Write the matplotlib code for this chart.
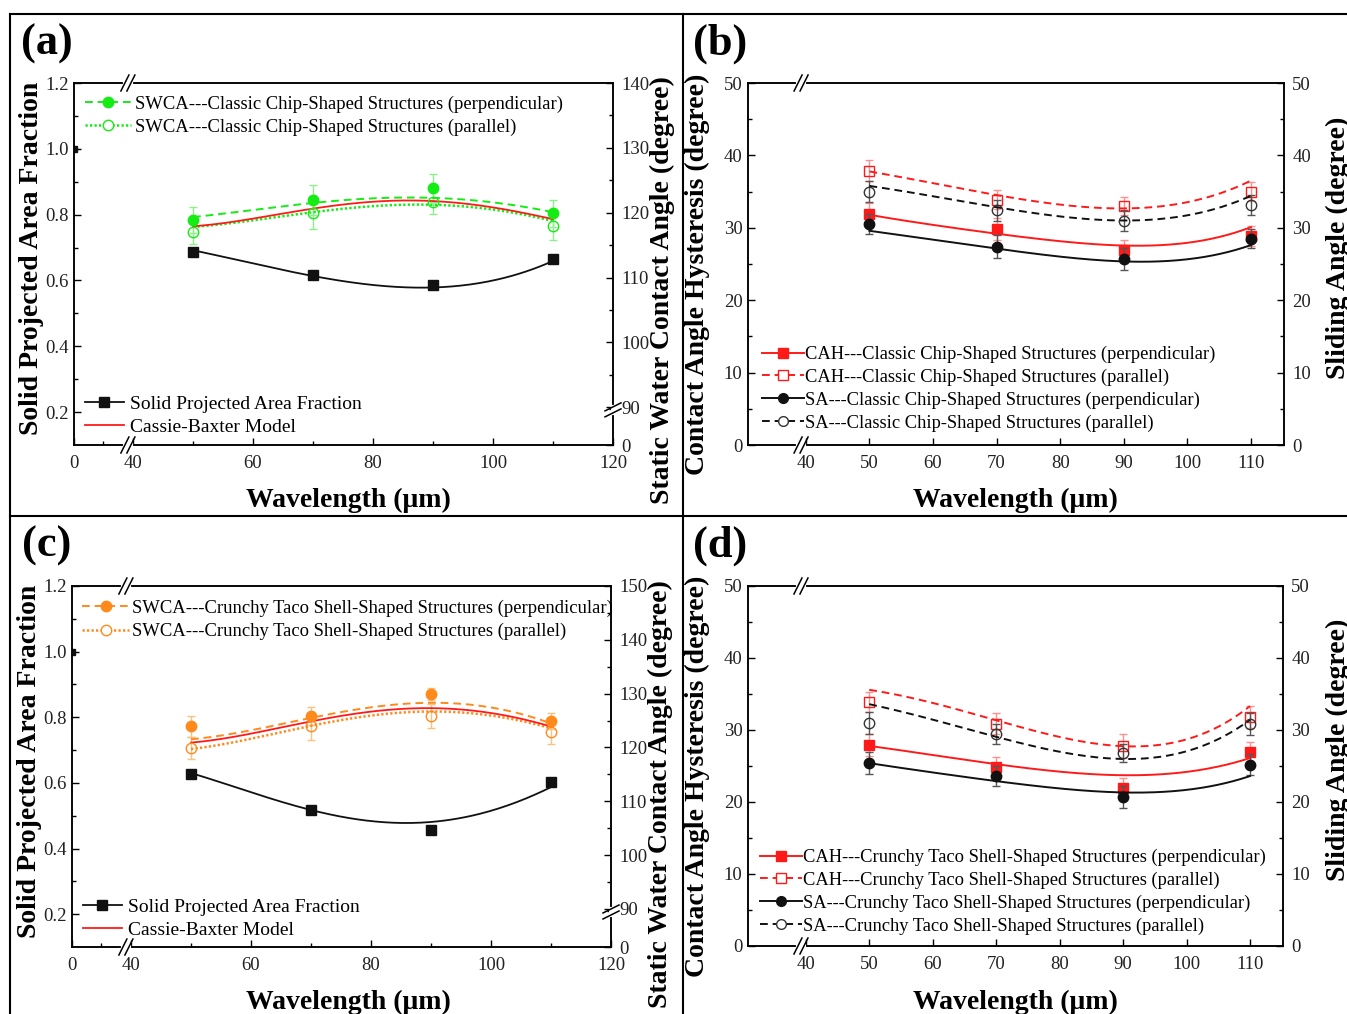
import numpy as np
import matplotlib.pyplot as plt
from matplotlib.lines import Line2D
from matplotlib.ticker import FixedLocator, FormatStrFormatter

W, H = 1347, 1014
plt.rcParams['font.family'] = 'serif'
plt.rcParams['font.serif'] = ['Liberation Serif', 'DejaVu Serif']

# ---------------- data ----------------
wl = [50, 70, 90, 110]                     # measured wavelengths (um)
fit_x = [50, 60, 70, 80, 90, 100, 110]     # where the fitted curves were read

# (a) classic chip-shaped structures
a_flat_x, a_flat_y = [0], [1.0]
a_spaf = [0.687, 0.617, 0.587, 0.664]
a_spaf_fit = [0.692, 0.651, 0.614, 0.587, 0.577, 0.601, 0.659]
a_perp = [118.8, 121.9, 123.8, 119.9]
a_perp_err = [2.0, 2.3, 2.15, 2.1]
a_par = [117.0, 120.0, 121.7, 117.9]
a_par_err = [1.9, 2.5, 1.95, 2.15]
a_perp_fit = [119.3, 120.5, 121.4, 122.2, 122.4, 121.5, 120.1]
a_par_fit = [117.8, 118.8, 120.1, 121.0, 121.2, 120.5, 118.7]
a_cb = [117.9, 119.1, 120.6, 121.7, 121.8, 120.8, 119.0]

# (c) crunchy taco shell-shaped structures
c_flat_x, c_flat_y = [0], [1.0]
c_spaf = [0.627, 0.518, 0.455, 0.602]
c_spaf_fit = [0.630, 0.572, 0.516, 0.486, 0.479, 0.516, 0.587]
c_perp = [123.9, 125.9, 129.9, 124.9]
c_perp_err = [2.0, 1.7, 1.1, 1.5]
c_par = [119.9, 123.9, 125.9, 122.9]
c_par_err = [2.0, 2.5, 2.2, 2.2]
c_perp_fit = [121.5, 123.3, 125.4, 127.4, 128.5, 127.3, 124.5]
c_par_fit = [119.7, 121.7, 123.9, 126.0, 126.7, 125.9, 123.6]
c_cb = [120.9, 122.6, 124.8, 126.7, 127.3, 126.4, 123.9]

# (b) CAH / SA, classic chip
b_cah_perp = [31.9, 29.8, 26.9, 28.9]
b_cah_par = [37.9, 33.9, 33.0, 35.0]
b_sa_perp = [30.5, 27.4, 25.7, 28.5]
b_sa_par = [35.0, 32.4, 31.0, 33.1]
b_cah_perp_err = [1.5, 1.5, 1.4, 1.4]
b_cah_par_err = [1.5, 1.3, 1.3, 1.3]
b_sa_perp_err = [1.4, 1.6, 1.5, 1.3]
b_sa_par_err = [1.5, 1.5, 1.4, 1.4]
b_cah_perp_fit = [31.8, 30.4, 29.2, 28.1, 27.6, 27.9, 30.1]
b_cah_par_fit = [37.8, 36.1, 34.6, 33.2, 32.6, 33.6, 36.5]
b_sa_perp_fit = [29.6, 28.3, 27.2, 26.0, 25.3, 25.7, 27.6]
b_sa_par_fit = [35.8, 34.3, 32.9, 31.6, 30.9, 31.8, 34.4]

# (d) CAH / SA, crunchy taco shell
d_cah_perp = [27.9, 24.8, 21.9, 26.9]
d_cah_par = [33.9, 30.9, 27.8, 31.8]
d_sa_perp = [25.4, 23.6, 20.7, 25.2]
d_sa_par = [31.0, 29.5, 26.8, 30.8]
d_cah_perp_err = [1.5, 1.5, 1.5, 1.5]
d_cah_par_err = [1.4, 1.4, 1.7, 1.5]
d_sa_perp_err = [1.5, 1.4, 1.5, 1.4]
d_sa_par_err = [1.5, 1.4, 1.3, 1.5]
d_cah_perp_fit = [27.8, 26.5, 25.3, 24.2, 23.7, 24.2, 26.1]
d_cah_par_fit = [35.6, 33.7, 31.4, 29.1, 27.6, 28.8, 33.3]
d_sa_perp_fit = [25.4, 24.1, 22.9, 21.9, 21.3, 21.7, 23.6]
d_sa_par_fit = [33.6, 31.4, 29.1, 27.0, 25.9, 27.1, 31.4]

GREEN = '#14ec14'
GREEN_E = '#8cf08c'
ORANGE = '#ff8a1c'
ORANGE_E = '#ffc080'
RED = '#ff1a1a'
RED_E = '#ff9090'
BLACK = '#111111'
BLACK_E = '#555555'
TICK_FS = 13.5


def fx(px):
    return px / W


def fy(py):
    return 1 - py / H


def rect(l, t, r, b):
    return [fx(l), fy(b), (r - l) / W, (b - t) / H]


def brk(edge, k):
    # piecewise scale: everything below `edge` is squeezed by factor k
    def fwd(v):
        v = np.asarray(v, float)
        return np.where(v < edge, v * k, edge * k + (v - edge))

    def inv(u):
        u = np.asarray(u, float)
        return np.where(u < edge * k, u / k, u - edge * k + edge)
    return fwd, inv


def smooth(xs, ys):
    # smooth fit line through the curve values
    c = np.polyfit(xs, ys, 4)
    xx = np.linspace(xs[0], xs[-1], 200)
    return xx, np.polyval(c, xx)


def ticks(ax, **kw):
    ax.tick_params(which='both', direction='in', labelsize=TICK_FS,
                   labelcolor='#222222', width=1.0, **kw)
    ax.tick_params(which='major', length=5, pad=4)
    ax.tick_params(which='minor', length=3)
    ax.tick_params(axis='x', which='major', pad=7)


def draw_break(ax, xa, ya, vertical=False):
    bb = ax.get_position()
    wpx, hpx = bb.width * W, bb.height * H
    kw = dict(transform=ax.transAxes, clip_on=False, zorder=20)
    if not vertical:
        ax.plot([xa - 3 / wpx, xa + 3 / wpx], [ya, ya], color='white', lw=3, **kw)
        for o in (-3, 3):
            ax.plot([xa + (o - 4) / wpx, xa + (o + 4) / wpx],
                    [ya - 8 / hpx, ya + 8 / hpx], color='k', lw=1.1, **kw)
    else:
        ax.plot([xa, xa], [ya - 3 / hpx, ya + 3 / hpx], color='white', lw=3, **kw)
        for o in (-3, 3):
            ax.plot([xa - 8 / wpx, xa + 8 / wpx],
                    [ya + (o - 4) / hpx, ya + (o + 4) / hpx], color='k', lw=1.1, **kw)


def spines(ax):
    for s in ax.spines.values():
        s.set_linewidth(1.1)


fig = plt.figure(figsize=(W / 100, H / 100), dpi=100, facecolor='white')


def left_panel(r, kx, ky, ytop, flat_x, flat_y, spaf, spaf_fit, perp, perp_err,
               par, par_err, perp_fit, par_fit, cb, col, col_e, lab_perp, lab_par,
               leg1_xy, leg2_xy):
    ax = fig.add_axes(rect(*r))
    ax.set_xscale('function', functions=brk(40, kx))
    ax.set_xlim(0, 120)
    ax.set_ylim(0.1, 1.2)
    ax.xaxis.set_major_locator(FixedLocator([0, 40, 60, 80, 100, 120]))
    ax.xaxis.set_minor_locator(FixedLocator([20, 50, 70, 90, 110]))
    ax.yaxis.set_major_locator(FixedLocator([0.2, 0.4, 0.6, 0.8, 1.0, 1.2]))
    ax.yaxis.set_minor_locator(FixedLocator([0.3, 0.5, 0.7, 0.9, 1.1]))
    ax.yaxis.set_major_formatter(FormatStrFormatter('%.1f'))
    ticks(ax, top=False, right=False)
    spines(ax)

    ax.plot(flat_x, flat_y, 's', color=BLACK, ms=5, clip_on=True)
    xx, yy = smooth(fit_x, spaf_fit)
    ax.plot(xx, yy, color=BLACK, lw=1.3)
    ax.plot(wl, spaf, 's', color=BLACK, ms=6.5)

    ax2 = ax.twinx()
    ax2.set_yscale('function', functions=brk(90, ky))
    ax2.set_ylim(0, ytop)
    ax2.yaxis.set_major_locator(FixedLocator([0] + list(range(90, ytop + 1, 10))))
    ax2.yaxis.set_minor_locator(FixedLocator([85] + list(range(95, ytop, 10))))
    ticks(ax2, left=False, right=True, top=False)
    ax2.tick_params(axis='y', which='major', pad=6)
    spines(ax2)

    ax2.errorbar(wl, perp, yerr=perp_err, fmt='none', ecolor=col_e, elinewidth=1, capsize=3)
    ax2.errorbar(wl, par, yerr=par_err, fmt='none', ecolor=col_e, elinewidth=1, capsize=3)
    xx, yy = smooth(fit_x, perp_fit)
    ax2.plot(xx, yy, color=col, lw=1.4, ls=(0, (4, 2.5)))
    xx, yy = smooth(fit_x, par_fit)
    ax2.plot(xx, yy, color=col, lw=1.8, ls=(0, (0.9, 0.9)))
    xx, yy = smooth(fit_x, cb)
    ax2.plot(xx, yy, color=RED, lw=1.3)
    ax2.plot(wl, perp, 'o', color=col, ms=7.5)
    ax2.plot(wl, par, 'o', mfc='none', mec=col, ms=7.5, mew=1)

    h1 = [Line2D([], [], color=col, lw=1.4, ls=(0, (4, 2.5)), marker='o', ms=7.5),
          Line2D([], [], color=col, lw=1.8, ls=(0, (0.9, 0.9)), marker='o',
                 mfc='white', mec=col, ms=7.5, mew=1)]
    leg1 = ax2.legend(h1, [lab_perp, lab_par], loc='upper left', bbox_to_anchor=leg1_xy,
                      frameon=False, fontsize=13.4, handlelength=2.5, handletextpad=0.2,
                      labelspacing=0.32, borderpad=0, borderaxespad=0)
    ax2.add_artist(leg1)
    h2 = [Line2D([], [], color=BLACK, lw=1.3, marker='s', ms=6.5),
          Line2D([], [], color=RED, lw=1.3)]
    ax2.legend(h2, ['Solid Projected Area Fraction', 'Cassie-Baxter Model'],
               loc='upper left', bbox_to_anchor=leg2_xy, frameon=False, fontsize=14,
               handlelength=2.0, handletextpad=0.35, labelspacing=0.28,
               borderpad=0, borderaxespad=0)

    draw_break(ax2, 0.1, 1.0)
    draw_break(ax2, 0.1, 0.0)
    draw_break(ax2, 1.0, 0.097, vertical=True)
    return ax, ax2


def right_panel(r, cah_perp, cah_perp_err, cah_par, cah_par_err, sa_perp, sa_perp_err,
                sa_par, sa_par_err, cah_perp_fit, cah_par_fit, sa_perp_fit, sa_par_fit,
                labels, leg_xy):
    ax = fig.add_axes(rect(*r))
    ax.set_xlim(30.9, 115.2)
    ax.set_ylim(0, 50)
    ax.xaxis.set_major_locator(FixedLocator([40, 50, 60, 70, 80, 90, 100, 110]))
    ax.yaxis.set_major_locator(FixedLocator([0, 10, 20, 30, 40, 50]))
    ax.yaxis.set_minor_locator(FixedLocator([5, 15, 25, 35, 45]))
    ticks(ax, top=False, right=False)
    spines(ax)

    ax2 = ax.twinx()
    ax2.set_ylim(0, 50)
    ax2.yaxis.set_major_locator(FixedLocator([0, 10, 20, 30, 40, 50]))
    ax2.yaxis.set_minor_locator(FixedLocator([5, 15, 25, 35, 45]))
    ticks(ax2, left=False, right=True, top=False)
    ax2.tick_params(axis='y', which='major', pad=6)
    spines(ax2)

    ax.errorbar(wl, cah_perp, yerr=cah_perp_err, fmt='none', ecolor=RED_E, elinewidth=1, capsize=3)
    ax.errorbar(wl, cah_par, yerr=cah_par_err, fmt='none', ecolor=RED_E, elinewidth=1, capsize=3)
    ax2.errorbar(wl, sa_perp, yerr=sa_perp_err, fmt='none', ecolor=BLACK_E, elinewidth=1, capsize=3)
    ax2.errorbar(wl, sa_par, yerr=sa_par_err, fmt='none', ecolor=BLACK_E, elinewidth=1, capsize=3)

    xx, yy = smooth(fit_x, cah_par_fit)
    ax.plot(xx, yy, color=RED, lw=1.4, ls=(0, (4, 2.5)))
    xx, yy = smooth(fit_x, cah_perp_fit)
    ax.plot(xx, yy, color=RED, lw=1.4)
    xx, yy = smooth(fit_x, sa_par_fit)
    ax2.plot(xx, yy, color=BLACK, lw=1.4, ls=(0, (4, 2.5)))
    xx, yy = smooth(fit_x, sa_perp_fit)
    ax2.plot(xx, yy, color=BLACK, lw=1.4)

    ax.plot(wl, cah_perp, 's', color=RED, ms=7)
    ax.plot(wl, cah_par, 's', mfc='none', mec=RED, ms=7.5, mew=1)
    ax2.plot(wl, sa_perp, 'o', color=BLACK, ms=7.5)
    ax2.plot(wl, sa_par, 'o', mfc='none', mec='#333333', ms=7.5, mew=1)

    hs = [Line2D([], [], color=RED, lw=1.4, marker='s', ms=6.5),
          Line2D([], [], color=RED, lw=1.4, ls=(0, (4, 2.5)), marker='s', mfc='white',
                 mec=RED, ms=7, mew=1),
          Line2D([], [], color=BLACK, lw=1.4, marker='o', ms=7),
          Line2D([], [], color=BLACK, lw=1.4, ls=(0, (4, 2.5)), marker='o', mfc='white',
                 mec='#333333', ms=7, mew=1)]
    ax2.legend(hs, labels, loc='upper left', bbox_to_anchor=leg_xy, frameon=False,
               fontsize=13.3, handlelength=2.3, handletextpad=0.05, labelspacing=0.3,
               borderpad=0, borderaxespad=0)

    draw_break(ax2, 0.099, 1.0)
    draw_break(ax2, 0.099, 0.0)
    return ax, ax2


left_panel((74, 83, 613, 445), 0.2458, 0.0648, 140, a_flat_x, a_flat_y,
           a_spaf, a_spaf_fit, a_perp, a_perp_err, a_par, a_par_err,
           a_perp_fit, a_par_fit, a_cb, GREEN, GREEN_E,
           'SWCA---Classic Chip-Shaped Structures (perpendicular)',
           'SWCA---Classic Chip-Shaped Structures (parallel)',
           (0.02, 0.966), (0.02, 0.138))

left_panel((72, 586, 611, 947), 0.2458, 0.0785, 150, c_flat_x, c_flat_y,
           c_spaf, c_spaf_fit, c_perp, c_perp_err, c_par, c_par_err,
           c_perp_fit, c_par_fit, c_cb, ORANGE, ORANGE_E,
           'SWCA---Crunchy Taco Shell-Shaped Structures (perpendicular)',
           'SWCA---Crunchy Taco Shell-Shaped Structures (parallel)',
           (0.019, 0.962), (0.02, 0.136))

right_panel((748, 83, 1284, 445), b_cah_perp, b_cah_perp_err, b_cah_par, b_cah_par_err,
            b_sa_perp, b_sa_perp_err, b_sa_par, b_sa_par_err,
            b_cah_perp_fit, b_cah_par_fit, b_sa_perp_fit, b_sa_par_fit,
            ['CAH---Classic Chip-Shaped Structures (perpendicular)',
             'CAH---Classic Chip-Shaped Structures (parallel)',
             'SA---Classic Chip-Shaped Structures (perpendicular)',
             'SA---Classic Chip-Shaped Structures (parallel)'],
            (0.026, 0.274))

right_panel((748, 586, 1283, 946), d_cah_perp, d_cah_perp_err, d_cah_par, d_cah_par_err,
            d_sa_perp, d_sa_perp_err, d_sa_par, d_sa_par_err,
            d_cah_perp_fit, d_cah_par_fit, d_sa_perp_fit, d_sa_par_fit,
            ['CAH---Crunchy Taco Shell-Shaped Structures (perpendicular)',
             'CAH---Crunchy Taco Shell-Shaped Structures (parallel)',
             'SA---Crunchy Taco Shell-Shaped Structures (perpendicular)',
             'SA---Crunchy Taco Shell-Shaped Structures (parallel)'],
            (0.022, 0.270))

# axis titles and panel letters
LBL = dict(fontsize=20, fontweight='bold', ha='center', va='center')
for (x, y, t, rot) in [
        (32, 258, 'Solid Projected Area Fraction', 90),
        (662, 290, 'Static Water Contact Angle (degree)', 90),
        (697, 274, 'Contact Angle Hysteresis (degree)', 90),
        (1338, 248, 'Sliding Angle (degree)', 90),
        (348, 500, 'Wavelength (μm)', 0),
        (1015, 500, 'Wavelength (μm)', 0),
        (30, 761, 'Solid Projected Area Fraction', 90),
        (660, 794, 'Static Water Contact Angle (degree)', 90),
        (697, 776, 'Contact Angle Hysteresis (degree)', 90),
        (1338, 750, 'Sliding Angle (degree)', 90),
        (348, 1002, 'Wavelength (μm)', 0),
        (1015, 1002, 'Wavelength (μm)', 0)]:
    fig.text(fx(x), fy(y), t, rotation=rot, **LBL)

for (x, y, t) in [(47, 44, '(a)'), (720, 44, '(b)'), (47, 546, '(c)'), (720, 546, '(d)')]:
    fig.text(fx(x), fy(y), t, fontsize=32, fontweight='bold', ha='center', va='center')

# panel frame
for xs, ys in [([10, 10], [14, 1014]), ([10, 1347], [14, 14]),
               ([683, 683], [14, 1014]), ([10, 1347], [516, 516])]:
    fig.add_artist(Line2D([fx(v) for v in xs], [fy(v) for v in ys],
                          transform=fig.transFigure, color='k', lw=1.5))

fig.savefig('out.png', dpi=100, facecolor='white')
